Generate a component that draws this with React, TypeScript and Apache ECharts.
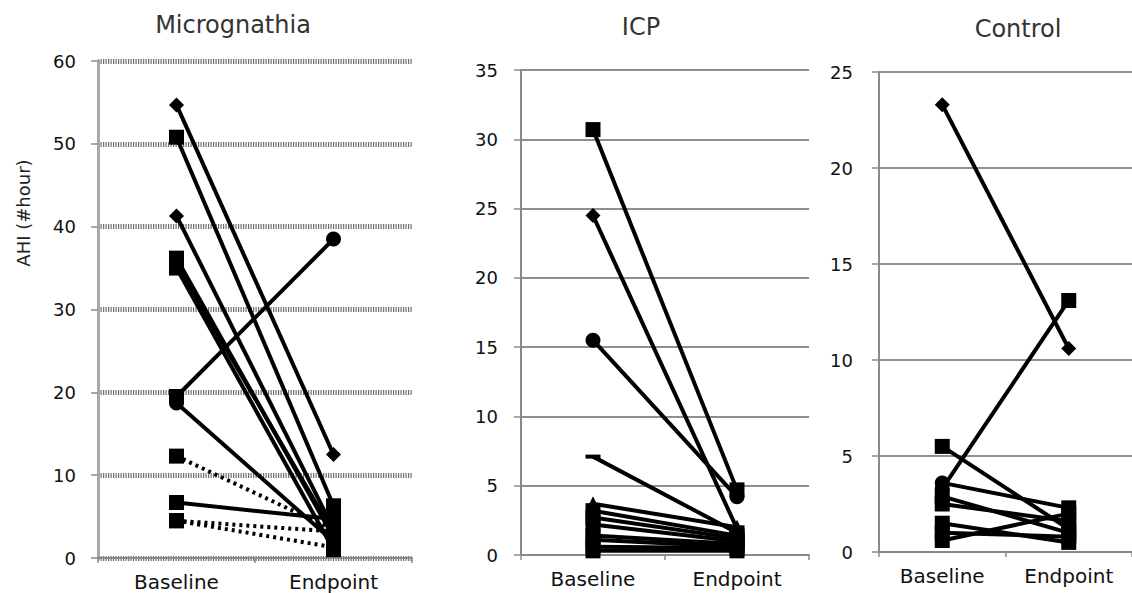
import React, { useEffect, useRef } from "react";
import * as echarts from "echarts";

const categories = ["Baseline", "Endpoint"];

// Micrognathia
const microBaseline = [54.7, 50.8, 41.3, 36.2, 35.5, 35.0, 19.5, 18.7, 12.3, 6.7, 4.5, 4.5];
const microEndpoint = [12.5, 6.3, 3.5, 2.5, 3.0, 1.0, 38.5, 2.0, 3.4, 4.7, 3.2, 1.3];
const microStartSym = ["diamond", "rect", "diamond", "rect", "rect", "rect", "rect", "circle", "rect", "rect", "rect", "rect"];
const microEndSym = ["diamond", "rect", "rect", "rect", "rect", "rect", "circle", "rect", "rect", "rect", "rect", "rect"];
const microDotted = [false, false, false, false, false, false, false, false, true, false, true, true];

// ICP
const icpBaseline = [30.7, 24.5, 15.5, 7.1, 3.7, 3.2, 2.7, 2.2, 1.4, 1.1, 0.6, 0.3];
const icpEndpoint = [4.7, 1.9, 4.2, 1.6, 2.0, 1.4, 1.2, 1.0, 0.8, 0.6, 0.5, 0.3];
const icpStartSym = ["rect", "diamond", "circle", "dash", "triangle", "rect", "rect", "rect", "rect", "rect", "rect", "rect"];
const icpEndSym = ["rect", "triangle", "circle", "rect", "triangle", "rect", "rect", "rect", "rect", "rect", "rect", "rect"];

// Control
const ctrlBaseline = [23.3, 3.3, 5.5, 3.6, 2.9, 2.5, 1.5, 0.6, 1.0];
const ctrlEndpoint = [10.6, 13.1, 1.2, 2.3, 1.0, 1.6, 0.5, 2.0, 0.8];
const ctrlStartSym = ["diamond", "circle", "rect", "circle", "rect", "rect", "rect", "rect", "rect"];
const ctrlEndSym = ["diamond", "rect", "rect", "rect", "rect", "rect", "rect", "rect", "rect"];

const titles = ["Micrognathia", "ICP", "Control"];
const yMax = [60, 35, 25];
const yInterval = [10, 5, 5];

const symSize = (s: string) => {
  if (s === "dash") return [15, 4];
  if (s === "diamond") return 15;
  if (s === "circle") return 15;
  if (s === "triangle") return 15;
  return 15;
};
const symName = (s: string) => (s === "dash" ? "rect" : s);

function buildSeries(
  idx: number,
  base: number[],
  end: number[],
  s1: string[],
  s2: string[],
  dotted?: boolean[]
) {
  return base.map((b, i) => ({
    type: "line",
    xAxisIndex: idx,
    yAxisIndex: idx,
    data: [
      { value: b, symbol: symName(s1[i]), symbolSize: symSize(s1[i]) },
      { value: end[i], symbol: symName(s2[i]), symbolSize: symSize(s2[i]) },
    ],
    showSymbol: true,
    lineStyle: {
      color: "#000",
      width: 4,
      type: dotted && dotted[i] ? [3, 4] : "solid",
    },
    itemStyle: { color: "#000", borderWidth: 0 },
    emphasis: { disabled: true },
    z: 3,
  }));
}

export default function App() {
  const ref = useRef<HTMLDivElement>(null);
  useEffect(() => {
    if (!ref.current) return;
    const chart = echarts.init(ref.current, null, { renderer: "svg" });
    const grids = [
      { left: 98, top: 61, width: 314, height: 497 },
      { left: 521, top: 70, width: 288, height: 485 },
      { left: 879, top: 72, width: 264, height: 480 },
    ];
    const titleCenters = [
      { x: 233, y: 25 },
      { x: 641, y: 27 },
      { x: 1018, y: 29 },
    ];
    const labelMargins = [22, 23, 26];
    const option: any = {
      animation: false,
      backgroundColor: "#fff",
      grid: grids.map((g) => ({ ...g, containLabel: false })),
      xAxis: grids.map((_, i) => ({
        type: "category",
        gridIndex: i,
        data: categories,
        boundaryGap: true,
        axisLine: { lineStyle: { color: "#8a8a8a", width: 2 } },
        axisTick: { show: true, length: 5, lineStyle: { color: "#8a8a8a", width: 1.5 } },
        axisLabel: {
          color: "#111",
          fontSize: 20,
          fontFamily: "DejaVu Sans",
          margin: 14,
        },
        splitLine: { show: false },
      })),
      yAxis: grids.map((_, i) => ({
        type: "value",
        gridIndex: i,
        min: 0,
        max: yMax[i],
        interval: yInterval[i],
        axisLine: {
          show: true,
          lineStyle: { color: i === 0 ? "#a8a8a8" : "#8a8a8a", width: i === 0 ? 3 : 2 },
        },
        axisTick: {
          show: true,
          inside: false,
          length: 7,
          lineStyle: { color: "#8a8a8a", width: 1.5 },
        },
        axisLabel: {
          color: "#111",
          fontSize: 18,
          fontFamily: "DejaVu Sans",
          margin: labelMargins[i],
        },
        splitLine: {
          show: true,
          lineStyle:
            i === 0
              ? { color: "#6f6f6f", width: 5, type: [1.2, 1.3] }
              : { color: "#8f8f8f", width: 1.8, type: "solid" },
        },
      })),
      graphic: [
        ...titles.map((t, i) => ({
          type: "text",
          x: titleCenters[i].x,
          y: titleCenters[i].y,
          style: {
            text: t,
            fontSize: 24,
            fontFamily: "DejaVu Sans",
            fill: "#333",
            align: "center",
            verticalAlign: "middle",
          },
        })),
        {
          type: "text",
          x: 23,
          y: 213,
          rotation: Math.PI / 2,
          style: {
            text: "AHI (#hour)",
            fontSize: 18,
            fontFamily: "DejaVu Sans",
            fill: "#222",
            align: "center",
            verticalAlign: "middle",
          },
        },
      ],
      series: [
        ...buildSeries(0, microBaseline, microEndpoint, microStartSym, microEndSym, microDotted),
        ...buildSeries(1, icpBaseline, icpEndpoint, icpStartSym, icpEndSym),
        ...buildSeries(2, ctrlBaseline, ctrlEndpoint, ctrlStartSym, ctrlEndSym),
      ],
    };
    chart.setOption(option);
    return () => chart.dispose();
  }, []);
  return (
    <div
      ref={ref}
      style={{ position: "fixed", left: 0, top: 0, width: 1132, height: 593 }}
    />
  );
}
